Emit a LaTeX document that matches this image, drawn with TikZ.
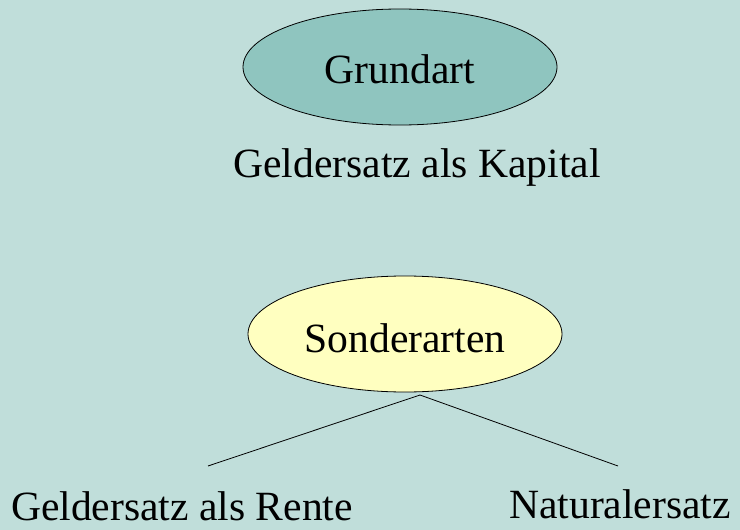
\documentclass[tikz,border=0pt]{standalone}
\usepackage{fontspec}
\setmainfont{Liberation Serif}
\usetikzlibrary{shapes.geometric, positioning}
\definecolor{SlideBG}{RGB}{192, 222, 218}
\definecolor{GrundFill}{RGB}{143, 197, 191}
\definecolor{SonderFill}{RGB}{255, 255, 192}

\tikzset{
  oval/.style={ellipse, draw=black, line width=0.8pt, inner sep=0pt,
    minimum width=314, minimum height=116},
  label text/.style={font=\fontsize{41.6}{48}\selectfont, inner sep=0pt}
}

\begin{document}
\begin{tikzpicture}[x=1pt,y=-1pt]
  \fill[SlideBG] (0,0) rectangle (740,530);
  \path[use as bounding box] (0,0) rectangle (740,530);

  % Grundart
  \node[oval, fill=GrundFill] (grund) at (400,67) {};
  \node[label text] (grundtext) at (400,69) {Grundart};
  \node[label text] (kapital) at (417,167) {Geldersatz als Kapital};

  % Sonderarten
  \node[oval, fill=SonderFill] (sonder) at (405,334) {};
  \node[label text] (sondertext) at (405,338) {Sonderarten};
  \coordinate (split) at (420,395);
  \coordinate (renteend) at (208,466);
  \coordinate (naturend) at (618,466);
  \draw[line width=0.8pt] (split) -- (renteend);
  \draw[line width=0.8pt] (split) -- (naturend);
  \node[label text] (rente) at (182,506) {Geldersatz als Rente};
  \node[label text] (natur) at (620,504) {Naturalersatz};
\end{tikzpicture}
\end{document}
